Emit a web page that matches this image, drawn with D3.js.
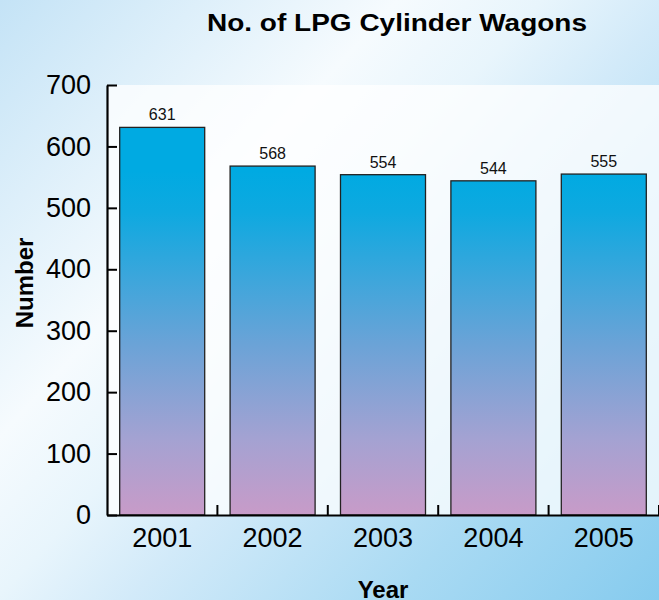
<!DOCTYPE html>
<html>
<head>
<meta charset="utf-8">
<script src="https://cdn.jsdelivr.net/npm/d3@7"></script>
<style>
  html, body { margin: 0; padding: 0; }
  svg { display: block; font-family: "Liberation Sans", Arial, Helvetica, sans-serif; }
</style>
</head>
<body>
<svg id="chart" width="659" height="600"></svg>
<script>
const years = ["2001", "2002", "2003", "2004", "2005"];
const wagons = [631, 568, 554, 544, 555];
const yTicks = [0, 100, 200, 300, 400, 500, 600, 700];
const titleText = "No. of LPG Cylinder Wagons";
const xTitle = "Year";
const yTitle = "Number";

const W = 659, H = 600;
const m = { left: 107, right: 0, top: 85, bottom: 85 };
const svg = d3.select("#chart");
const defs = svg.append("defs");

// background gradient
const bg = defs.append("linearGradient").attr("id", "bg")
  .attr("gradientUnits", "userSpaceOnUse")
  .attr("x1", 0).attr("y1", 0).attr("x2", 659).attr("y2", 600);
[[0, "#c4e3f6"], [0.33, "#f6fbfe"], [0.45, "#e8f5fc"], [0.56, "#d2eaf9"], [0.78, "#a9daf3"], [1, "#86cbee"]]
  .forEach(([o, c]) => bg.append("stop").attr("offset", o).attr("stop-color", c));

svg.append("rect").attr("width", W).attr("height", H).attr("fill", "url(#bg)");

const x = d3.scaleBand().domain(years).range([m.left, W - m.right])
  .paddingInner(0.23).paddingOuter(0.115);
const y = d3.scaleLinear().domain([0, 700]).range([H - m.bottom, m.top]);

// bar gradient
const bg2 = defs.append("linearGradient").attr("id", "barGrad")
  .attr("gradientUnits", "userSpaceOnUse")
  .attr("x1", 0).attr("x2", 0).attr("y1", y(560)).attr("y2", y(0));
[[0, "#00aae2"], [0.12, "#0ea9e0"], [0.5, "#6aa3d7"], [0.78, "#a4a2d2"], [1, "#c89bc8"]]
  .forEach(([o, c]) => bg2.append("stop").attr("offset", o).attr("stop-color", c));

// plot area
svg.append("rect")
  .attr("x", m.left).attr("y", y(700))
  .attr("width", x.range()[1] - x.range()[0]).attr("height", y(0) - y(700))
  .attr("fill", "#ffffff").attr("fill-opacity", 0.75);

// bars
svg.append("g").selectAll("rect").data(years).join("rect")
  .attr("x", d => x(d)).attr("width", x.bandwidth())
  .attr("y", (d, i) => y(wagons[i])).attr("height", (d, i) => y(0) - y(wagons[i]))
  .attr("fill", "url(#barGrad)").attr("stroke", "#222").attr("stroke-width", 1.3);

// value labels
svg.append("g").selectAll("text").data(years).join("text")
  .attr("x", d => x(d) + x.bandwidth() / 2)
  .attr("y", (d, i) => y(wagons[i]) - 7)
  .attr("text-anchor", "middle").attr("font-size", 16).attr("fill", "#111")
  .text((d, i) => wagons[i]);

// y axis
const gy = svg.append("g").attr("transform", `translate(${m.left},0)`)
  .call(d3.axisLeft(y).tickValues(yTicks).tickSize(-10).tickSizeOuter(0).tickPadding(16));
gy.select(".domain").attr("stroke", "#000").attr("stroke-width", 2.2);
gy.selectAll(".tick line").attr("stroke", "#000").attr("stroke-width", 2);
gy.selectAll(".tick text").attr("font-size", 27).attr("fill", "#000")
  .attr("font-family", "'Liberation Sans', Arial, sans-serif");

// x axis
const gx = svg.append("g").attr("transform", `translate(0,${y(0)})`)
  .call(d3.axisBottom(x).tickSize(0).tickSizeOuter(0).tickPadding(0));
gx.select(".domain").attr("stroke", "#000").attr("stroke-width", 2.2);
gx.selectAll(".tick text").attr("font-size", 27).attr("fill", "#000")
  .attr("dy", null).attr("y", 32)
  .attr("font-family", "'Liberation Sans', Arial, sans-serif");

// boundary ticks between bands
const bounds = d3.range(1, years.length + 1).map(i => x.range()[0] + i * x.step());
gx.selectAll(".btick").data(bounds).join("line").attr("class", "btick")
  .attr("x1", d => d).attr("x2", d => d).attr("y1", 0).attr("y2", -10)
  .attr("stroke", "#000").attr("stroke-width", 2);

// titles
svg.append("text").attr("x", 397).attr("y", 31).attr("text-anchor", "middle")
  .attr("font-size", 24).attr("font-weight", "bold").attr("fill", "#000")
  .attr("textLength", 380).attr("lengthAdjust", "spacingAndGlyphs")
  .text(titleText);

svg.append("text").attr("x", (x.range()[0] + x.range()[1]) / 2).attr("y", 598)
  .attr("text-anchor", "middle").attr("font-size", 24).attr("font-weight", "bold").attr("fill", "#000")
  .text(xTitle);

svg.append("text").attr("transform", "translate(33,283) rotate(-90)")
  .attr("text-anchor", "middle").attr("font-size", 24).attr("font-weight", "bold").attr("fill", "#000")
  .text(yTitle);
</script>
</body>
</html>
